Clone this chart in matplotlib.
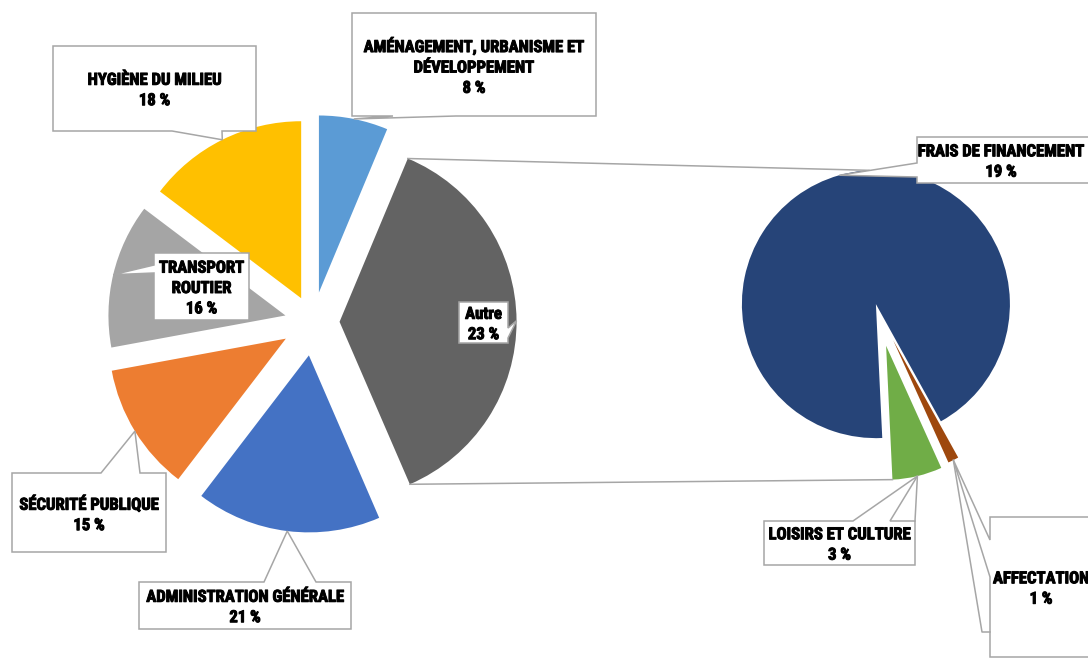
import matplotlib
matplotlib.use('Agg')
import matplotlib.pyplot as plt
import matplotlib.patheffects as pe
from matplotlib.patches import Polygon
import numpy as np

W, H = 1088, 658

# main pie: slice sizes (share of the circle),
# printed percentages kept apart because they are what the labels say
main_names = ['Autre', 'AMÉNAGEMENT, URBANISME ET\nDÉVELOPPEMENT', 'HYGIÈNE DU MILIEU',
              'TRANSPORT\nROUTIER', 'SÉCURITÉ PUBLIQUE', 'ADMINISTRATION GÉNÉRALE']
main_shares = [37.2, 6.3, 14.7, 13.2, 11.7, 16.9]
main_pct = ['23 %', '8 %', '18 %', '16 %', '15 %', '21 %']
main_colors = ['#636363', '#5B9BD5', '#FFC000', '#A5A5A5', '#ED7D31', '#4472C4']

# second pie (breakdown of "Autre")
sub_names = ['FRAIS DE FINANCEMENT', 'LOISIRS ET CULTURE', 'AFFECTATION']
sub_shares = [92.7, 6.0, 1.3]
sub_pct = ['19 %', '3 %', '1 %']
sub_colors = ['#264478', '#70AD47', '#9E480E']

# layout (pixels, y measured from the top of the image)
R1, C1 = 177, (313, 322)
R2, C2 = 134, (877, 308)
main_explode = [0.15, 0.17, 0.15, 0.16, 0.18, 0.19]
sub_explode = [0.03, 0.29, 0.27]

# callout boxes: (x0, y0, x1, y1), side of pointer, base of pointer, text x
main_boxes = [
    ((459, 302, 508, 343), 'right', (328, 338), None),
    ((352, 13, 596, 116), 'bottom', (393, 456), None),
    ((53, 46, 256, 131), 'bottom', (172, 222), None),
    ((154, 253, 249, 320), 'left', (265, 273), None),
    ((12, 473, 166, 552), 'top', (101, 140), None),
    ((139, 582, 351, 629), 'top', (264, 316), None),
]
sub_boxes = [
    ((917, 137, 1097, 183), 'left', (163, 177), 1001),
    ((764, 521, 915, 565), 'top', (853, 890), None),
    ((990, 517, 1100, 657), 'left', (540, 577), 1041),
]

EDGE = '#A6A6A6'
FONT = ['Liberation Sans Narrow', 'Roboto Condensed', 'Liberation Sans', 'DejaVu Sans']


def tip_of(w):
    m = np.deg2rad((w.theta1 + w.theta2) / 2)
    return w.center[0] + w.r * np.cos(m), w.center[1] + w.r * np.sin(m)


def edge_point(w, ang):
    a = np.deg2rad(ang)
    return w.center[0] + w.r * np.cos(a), w.center[1] + w.r * np.sin(a)


def callout(ax, box, side, base, tx, tip, text):
    x0, y0, x1, y1 = box
    top, bot = H - y0, H - y1
    a, b = base
    pts = [(x0, top)]
    if side == 'top':
        pts += [(a, top), tip, (b, top)]
    pts += [(x1, top)]
    if side == 'right':
        pts += [(x1, H - a), tip, (x1, H - b)]
    pts += [(x1, bot)]
    if side == 'bottom':
        pts += [(b, bot), tip, (a, bot)]
    pts += [(x0, bot)]
    if side == 'left':
        pts += [(x0, H - b), tip, (x0, H - a)]
    ax.add_patch(Polygon(pts, closed=True, facecolor='white', edgecolor=EDGE,
                         linewidth=1.1, zorder=5, clip_on=False))
    if tx is None:
        tx = (x0 + x1) / 2
    ax.text(tx, (top + bot) / 2 - 2, text, ha='center', va='center',
            multialignment='center', fontsize=12, fontweight='bold', family=FONT,
            linespacing=1.45, zorder=6,
            path_effects=[pe.withStroke(linewidth=0.7, foreground='black')])


fig = plt.figure(figsize=(W / 100, H / 100), dpi=100)
ax = fig.add_axes([0, 0, 1, 1])

w1, _ = ax.pie(main_shares, colors=main_colors, startangle=-66.6, radius=R1,
               center=(C1[0], H - C1[1]), explode=[e * R1 for e in main_explode],
               wedgeprops=dict(linewidth=0))
w2, _ = ax.pie(sub_shares, colors=sub_colors, startangle=-61, radius=R2,
               center=(C2[0], H - C2[1]), explode=[e * R2 for e in sub_explode],
               wedgeprops=dict(linewidth=0))

# series lines from "Autre" to the second pie
autre = w1[0]
p_top = edge_point(autre, autre.theta2)
p_bot = edge_point(autre, autre.theta1)
q_top = edge_point(w2[0], 93)
q_bot = edge_point(w2[1], w2[1].theta1)
ax.plot([p_top[0], q_top[0]], [p_top[1], q_top[1]], color=EDGE, lw=1.1, zorder=3)
ax.plot([p_bot[0], q_bot[0]], [p_bot[1], q_bot[1]], color=EDGE, lw=1.1, zorder=3)

for w, (box, side, base, tx), name, pct in zip(w1, main_boxes, main_names, main_pct):
    callout(ax, box, side, base, tx, tip_of(w), name + '\n' + pct)

for w, (box, side, base, tx), name, pct in zip(w2, sub_boxes, sub_names, sub_pct):
    callout(ax, box, side, base, tx, tip_of(w), name + '\n' + pct)

# extra leader strokes left by overlapping callouts
t = tip_of(w2[1])
ax.plot([t[0], 915], [t[1], H - 521], color=EDGE, lw=1.1, zorder=5)
t = tip_of(w2[2])
ax.plot([t[0], 982, 990], [t[1], H - 632, H - 632], color=EDGE, lw=1.1, zorder=5)

ax.set_xlim(0, W)
ax.set_ylim(0, H)
ax.set_aspect('equal')
ax.axis('off')

fig.savefig('out.png', dpi=100, facecolor='white')
